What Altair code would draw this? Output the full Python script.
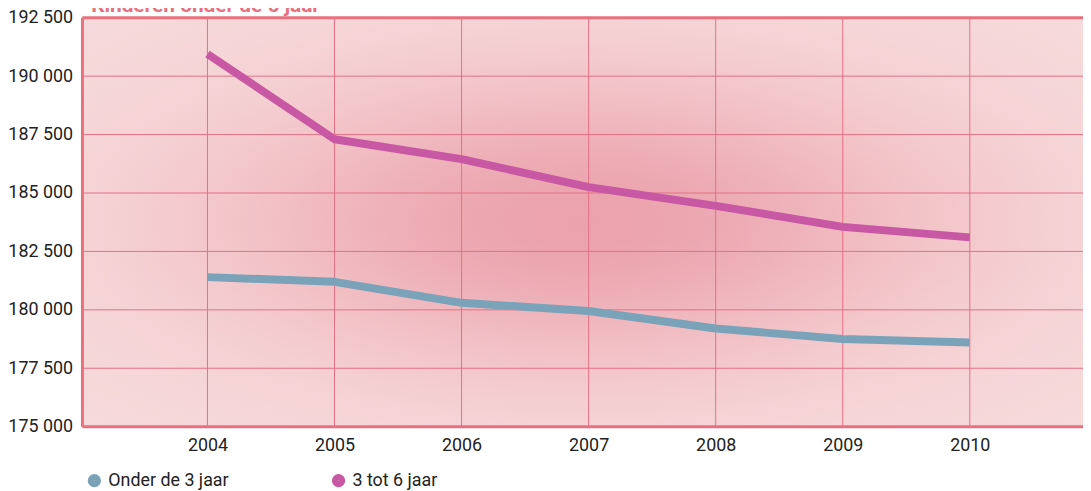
import math
import altair as alt
import pandas as pd

years = [2004, 2005, 2006, 2007, 2008, 2009, 2010]
series_names = ["Onder de 3 jaar", "3 tot 6 jaar"]
onder_3 = [181400, 181200, 180300, 179950, 179200, 178750, 178600]
tot_6 = [190950, 187300, 186450, 185250, 184450, 183550, 183100]
y_ticks = [175000, 177500, 180000, 182500, 185000, 187500, 190000, 192500]
title_text = "Kinderen onder de 6 jaar"

rows = []
for name, vals in zip(series_names, [onder_3, tot_6]):
    for yr, v in zip(years, vals):
        rows.append({"jaar": yr, "aantal": v, "reeks": name})
df = pd.DataFrame(rows)

PINK = "#e8707f"
GRID = "#e47085"
W, H = 1008, 412

# background colours (style): pale edge and darker centre of the glow
PALE = (247, 219, 220)
DARK = (235, 162, 172)
SIGMA = 0.72


def g(p):
    x = 2 * p - 1
    return math.exp(-(x / SIGMA) ** 2)


def lerp(t):
    return "#%02x%02x%02x" % tuple(round(a + (b - a) * t) for a, b in zip(PALE, DARK))


positions = [i / 20 for i in range(21)]
h_stops = [alt.GradientStop(offset=p, color=lerp(g(p))) for p in positions]
v_stops = [alt.GradientStop(offset=p, color="rgba(%d,%d,%d,%.3f)" % (PALE + (1 - g(p),)))
           for p in positions]

x_scale = alt.Scale(domain=[2003.016, 2003.016 + W / 128], nice=False, zero=False)
y_scale = alt.Scale(domain=[175000, 192500], nice=False, zero=False)

one = pd.DataFrame({"a": [0]})

bg_h = alt.Chart(one).mark_rect(
    fill=alt.LinearGradient(gradient="linear", stops=h_stops, x1=0, y1=0, x2=1, y2=0)
).encode(x=alt.value(0), x2=alt.value("width"), y=alt.value(0), y2=alt.value("height"))
bg_v = alt.Chart(one).mark_rect(
    fill=alt.LinearGradient(gradient="linear", stops=v_stops, x1=0, y1=0, x2=0, y2=1)
).encode(x=alt.value(0), x2=alt.value("width"), y=alt.value(0), y2=alt.value("height"))

vgrid = alt.Chart(pd.DataFrame({"jaar": years})).mark_rule(color=GRID, strokeWidth=1).encode(
    x=alt.X("jaar:Q", scale=x_scale), y=alt.value(0), y2=alt.value("height"))
hgrid = alt.Chart(pd.DataFrame({"aantal": y_ticks})).mark_rule(color=GRID, strokeWidth=1).encode(
    y=alt.Y("aantal:Q", scale=y_scale), x=alt.value(0), x2=alt.value("width"))

lines = alt.Chart(df).mark_line(strokeWidth=8, strokeCap="butt", strokeJoin="round").encode(
    x=alt.X("jaar:Q", scale=x_scale,
            axis=alt.Axis(values=years, format="d", title=None, grid=False,
                          domain=False, ticks=False, labelFontSize=18,
                          labelColor="#222222", labelPadding=10, labelFont="Roboto")),
    y=alt.Y("aantal:Q", scale=y_scale,
            axis=alt.Axis(values=y_ticks, title=None, grid=False,
                          domain=False, ticks=False, labelFontSize=18, labelColor="#222222",
                          labelPadding=10, labelFont="Roboto",
                          labelExpr="replace(format(datum.value, ','), ',', ' ')")),
    color=alt.Color("reeks:N", sort=series_names,
                    scale=alt.Scale(domain=series_names, range=["#7aa3b9", "#c858a3"]),
                    legend=alt.Legend(title=None, orient="none", direction="horizontal",
                                      legendX=3, legendY=457, symbolType="circle",
                                      symbolSize=40, symbolStrokeWidth=7, symbolOpacity=1,
                                      labelFontSize=18, labelColor="#222222", labelFont="Roboto",
                                      columnPadding=92, padding=0, labelOffset=5)),
)

frame_top = alt.Chart(one).mark_rule(color=PINK, strokeWidth=3).encode(
    x=alt.value(0), x2=alt.value("width"), y=alt.value(0))
frame_left = alt.Chart(one).mark_rule(color=PINK, strokeWidth=3).encode(
    x=alt.value(0), y=alt.value(0), y2=alt.value("height"))
frame_bottom = alt.Chart(one).mark_rule(color=PINK, strokeWidth=3).encode(
    x=alt.value(0), x2=alt.value("width"), y=alt.value("height"))

chart = alt.layer(bg_h, bg_v, vgrid, hgrid, lines, frame_top, frame_left, frame_bottom).properties(
    width=W, height=H,
    title=alt.Title(title_text, anchor="start", orient="top", offset=-7, dx=84,
                    color=PINK, fontSize=21, fontWeight="bold", font="Roboto"),
    autosize=alt.AutoSizeParams(type="none"),
    padding={"left": 75, "top": 8, "right": 0, "bottom": 63},
).configure_view(stroke=None)

chart.save("out.html", embed_options={"renderer": "svg", "actions": False})
